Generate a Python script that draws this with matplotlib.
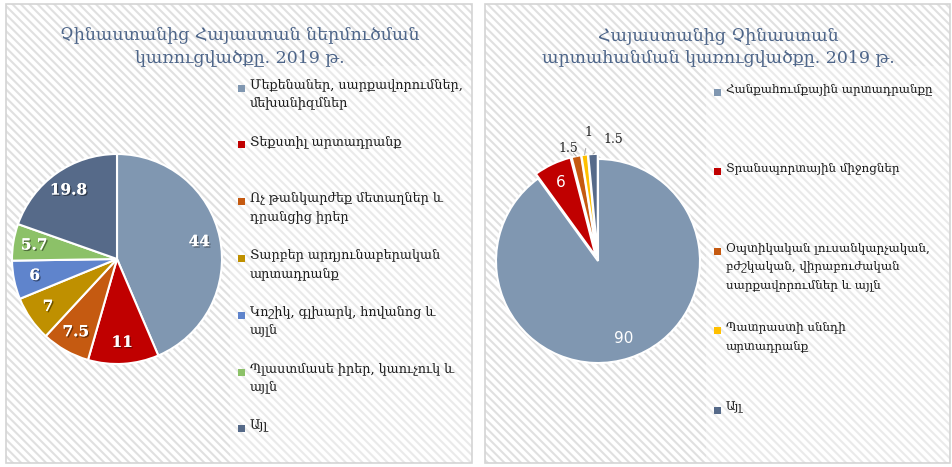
import numpy as np
import matplotlib
matplotlib.use("Agg")
import matplotlib.pyplot as plt
import matplotlib.patheffects as pe
from matplotlib.patches import Rectangle

# Տվյալներ (կարդացված նկարից)
ներմուծում_անուններ = [
    "Մեքենաներ, սարքավորումներ,\nմեխանիզմներ",
    "Տեքստիլ արտադրանք",
    "Ոչ թանկարժեք մետաղներ և\nդրանցից իրեր",
    "Տարբեր արդյունաբերական\nարտադրանք",
    "Կոշիկ, գլխարկ, հովանոց և\nայլն",
    "Պլաստմասե իրեր, կաուչուկ և\nայլն",
    "Այլ",
]
ներմուծում_արժեքներ = [44, 11, 7.5, 7, 6, 5.7, 19.8]
ներմուծում_գույներ = ["#8097b1", "#c00000", "#c55a11", "#bf9000", "#5f84cc", "#8cc168", "#566a89"]

արտահանում_անուններ = [
    "Հանքահումքային արտադրանքը",
    "Տրանսպորտային միջոցներ",
    "Օպտիկական լուսանկարչական,\nբժշկական, վիրաբուժական\nսարքավորումներ և այլն",
    "Պատրաստի սննդի\nարտադրանք",
    "Այլ",
]
արտահանում_արժեքներ = [90, 6, 1.5, 1, 1.5]
արտահանում_գույներ = ["#8097b1", "#c00000", "#c55a11", "#ffc000", "#566a89"]

վերնագիր1 = "Չինաստանից Հայաստան ներմուծման\nկառուցվածքը. 2019 թ."
վերնագիր2 = "Հայաստանից Չինաստան\nարտահանման կառուցվածքը. 2019 թ."

FONT = ["DejaVu Serif", "DejaVu Sans"]
W, H = 953, 467
plt.rcParams["hatch.linewidth"] = 1.5

fig = plt.figure(figsize=(W / 100, H / 100), dpi=100)
bg = fig.add_axes([0, 0, 1, 1])
bg.set_xlim(0, W)
bg.set_ylim(H, 0)
bg.axis("off")


def panel(x0, x1, lx, title, tx, names, colors, y0, step, fs):
    # ֆոն՝ շեղ գծերով
    bg.add_patch(Rectangle((x0, 4), x1 - x0, 459, facecolor="white",
                           edgecolor="#e0e0e0", linewidth=0, hatch="\\\\\\\\", zorder=1))
    bg.add_patch(Rectangle((lx - 8, 66), x1 - lx + 8, 396, facecolor="white",
                           edgecolor="none", alpha=0.35, zorder=2))
    bg.add_patch(Rectangle((x0, 4), x1 - x0, 459, fill=False,
                           edgecolor="#d4d4d4", linewidth=1.2, zorder=3))
    bg.text(tx, 47, title, ha="center", va="center", fontsize=12.5,
            color="#4d6589", family=FONT, linespacing=1.45, zorder=4)
    # լեգենդ
    for i, (n, c) in enumerate(zip(names, colors)):
        y = y0 + i * step
        bg.add_patch(Rectangle((lx, y - 3.5), 7, 7, facecolor=c, edgecolor="none", zorder=4))
        bg.text(lx + 12, y - 10, n, ha="left", va="top", fontsize=fs,
                color="#1a1a1a", family=FONT, linespacing=1.55, zorder=4)


panel(6, 472, 238, վերնագիր1, 240, ներմուծում_անուններ, ներմուծում_գույներ, 88, 56.8, 9.2)
panel(485, 950, 714, վերնագիր2, 718, արտահանում_անուններ, արտահանում_գույներ, 92, 79.5, 8.6)

# Ձախ շրջանաձև գծապատկեր
ax1 = fig.add_axes([12 / W, (H - 364) / H, 210 / W, 210 / H])
w1, t1 = ax1.pie(ներմուծում_արժեքներ, colors=ներմուծում_գույներ, startangle=90,
                 counterclock=False, labels=[f"{v:g}" for v in ներմուծում_արժեքներ],
                 labeldistance=0.8,
                 wedgeprops=dict(edgecolor="white", linewidth=1.5))
for t in t1:
    t.set_ha("center")
    t.set_va("center")
    t.set_color("white")
    t.set_fontsize(11)
    t.set_fontweight("bold")
    t.set_family(FONT)
    t.set_path_effects([pe.withSimplePatchShadow(offset=(1, -1), shadow_rgbFace="black", alpha=0.45), pe.Normal()])
ax1.set_xlim(-1, 1)
ax1.set_ylim(-1, 1)

# Աջ շրջանաձև գծապատկեր
ax2 = fig.add_axes([496 / W, (H - 363) / H, 204 / W, 204 / H])
explode = [0, 0.05, 0.05, 0.05, 0.05]
w2, t2 = ax2.pie(արտահանում_արժեքներ, colors=արտահանում_գույներ, startangle=90,
                 counterclock=False, explode=explode,
                 labels=[f"{v:g}" for v in արտահանում_արժեքներ], labeldistance=0.8,
                 wedgeprops=dict(edgecolor="white", linewidth=1.5))
for t in t2[:2]:
    t.set_ha("center")
    t.set_va("center")
    t.set_color("white")
    t.set_fontsize(11)
# փոքր հատվածների պիտակներ՝ դրսից
offsets = [(-0.06, 0.0), (0.05, 0.14), (0.2, 0.06)]
for t, w, (dx, dy) in zip(t2[2:], w2[2:], offsets):
    t.set_visible(False)
    mid = np.deg2rad((w.theta1 + w.theta2) / 2)
    ex, ey = np.cos(mid) * 1.05, np.sin(mid) * 1.05
    tx, ty = np.cos(mid) * 1.13 + dx, np.sin(mid) * 1.13 + dy
    ax2.annotate(t.get_text(), xy=(ex, ey), xytext=(tx, ty), ha="center", va="center",
                 fontsize=9, color="#222222", family=FONT, annotation_clip=False,
                 arrowprops=dict(arrowstyle="-", color="#b0b0b0", lw=0.8,
                                 shrinkA=5, shrinkB=0))
ax2.set_xlim(-1, 1)
ax2.set_ylim(-1, 1)

fig.savefig("out.png", dpi=100)
